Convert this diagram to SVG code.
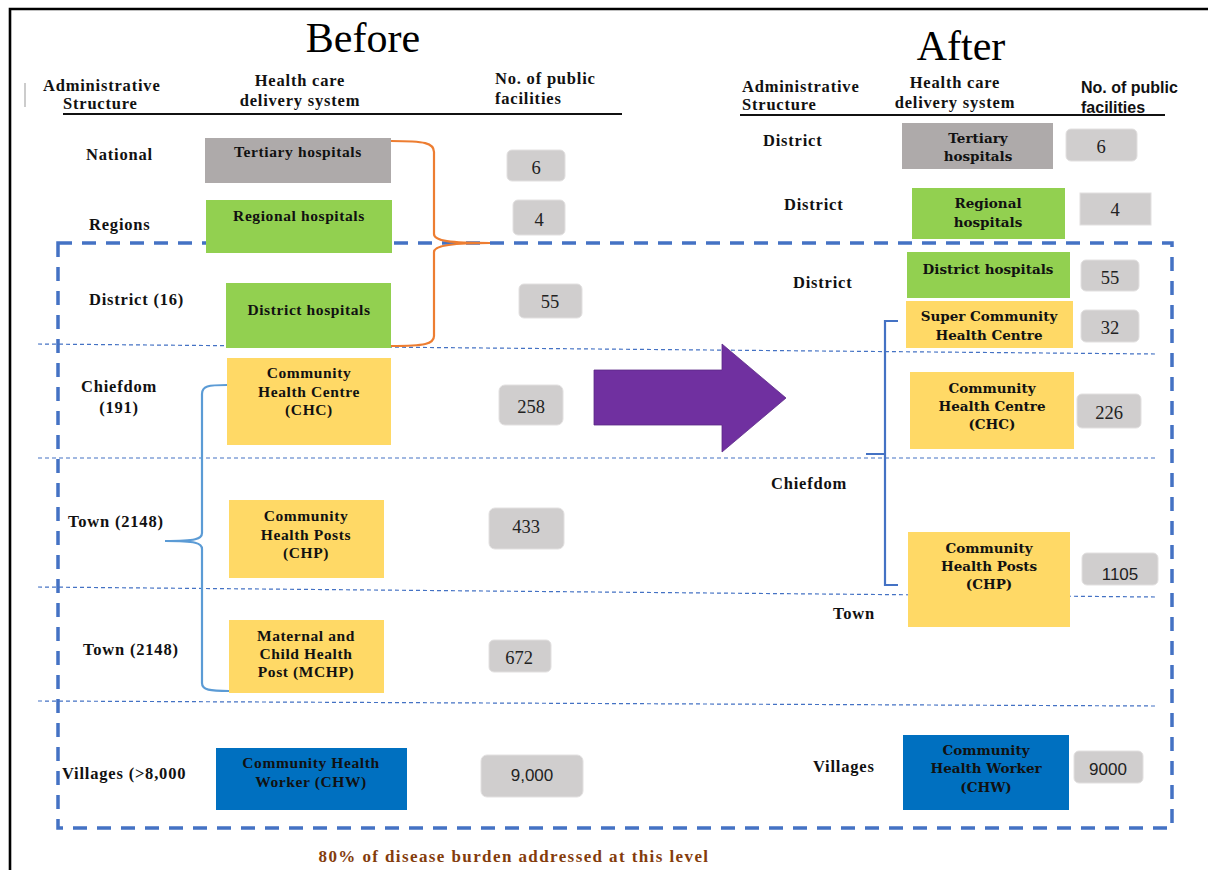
<svg xmlns="http://www.w3.org/2000/svg" width="1208" height="870" viewBox="0 0 1208 870">
  <defs>
    <style>
      .title { font-family: "Liberation Serif", serif; font-size: 42px; fill: #000; }
      .hdr { font-family: "Liberation Serif", serif; font-weight: bold; font-size: 16.5px; letter-spacing: 0.8px; fill: #111; }
      .hdrs { font-family: "Liberation Sans", Arial, sans-serif; font-weight: bold; font-size: 16px; fill: #111; }
      .lbl { font-family: "Liberation Serif", serif; font-weight: bold; font-size: 16.5px; letter-spacing: 0.8px; fill: #111; }
      .bx { font-family: "Liberation Serif", serif; font-weight: bold; font-size: 15.5px; letter-spacing: 0.6px; fill: #111; text-anchor: middle; }
      .bxr { font-family: "DejaVu Serif", serif; font-weight: bold; font-size: 13.5px; fill: #111; text-anchor: middle; }
      .num { font-family: "Liberation Serif", serif; font-size: 18.5px; fill: #222; text-anchor: middle; }
      .nums { font-family: "Liberation Sans", Arial, sans-serif; font-size: 17px; fill: #222; text-anchor: middle; }
      .gray { fill: #AEAAAA; }
      .green { fill: #92D050; }
      .yellow { fill: #FFD966; }
      .blue { fill: #0070C0; }
      .count { fill: #D0CECE; stroke: #E2E0E0; stroke-width: 1; }
      .sep { fill: none; stroke: #4472C4; stroke-width: 1.2; stroke-dasharray: 4 3; }
      .zone { fill: none; stroke: #4472C4; stroke-width: 3.5; stroke-dasharray: 14 10; }
      .rule { stroke: #111; stroke-width: 2.2; }
    </style>
  </defs>

  <rect width="1208" height="870" fill="#fff"/>

  <!-- outer frame (top and left edges) -->
  <path d="M10,870 L10,9 L1208,9" fill="none" stroke="#000" stroke-width="2.6"/>
  <line x1="25" y1="83" x2="25" y2="107" stroke="#999" stroke-width="1"/>

  <!-- titles -->
  <text class="title" x="363" y="52" text-anchor="middle">Before</text>
  <text class="title" x="961" y="60" text-anchor="middle">After</text>

  <!-- column headers: before -->
  <g id="headers-before">
    <text class="hdr" x="43" y="91">Administrative</text>
    <text class="hdr" x="63" y="109">Structure</text>
    <text class="hdr" x="300" y="86" text-anchor="middle">Health care</text>
    <text class="hdr" x="300" y="106" text-anchor="middle">delivery system</text>
    <text class="hdr" x="495" y="84">No. of public</text>
    <text class="hdr" x="495" y="104">facilities</text>
    <line class="rule" x1="63" y1="114" x2="622" y2="114"/>
  </g>

  <!-- column headers: after -->
  <g id="headers-after">
    <text class="hdr" x="742" y="92">Administrative</text>
    <text class="hdr" x="742" y="110">Structure</text>
    <text class="hdr" x="955" y="88" text-anchor="middle">Health care</text>
    <text class="hdr" x="955" y="108" text-anchor="middle">delivery system</text>
    <text class="hdrs" x="1081" y="93">No. of public</text>
    <text class="hdrs" x="1081" y="113">facilities</text>
    <line class="rule" x1="740" y1="115" x2="1165" y2="115"/>
  </g>

  <!-- level separators and primary-care zone -->
  <g id="connectors">
    <path class="sep" d="M38,344 L1155,354"/>
    <path class="sep" d="M38,458 L1155,458"/>
    <path class="sep" d="M38,587 L1155,597"/>
    <path class="sep" d="M38,701 L1155,706"/>
    <rect class="zone" x="58" y="243" width="1114" height="585"/>

    <!-- orange brace grouping hospitals -->
    <path d="M391,141 C425,141 434,143 434,152 L434,234 C434,241 450,243 490,243 C450,243 434,246 434,252 L434,336 C434,344 425,346 391,346" fill="none" stroke="#ED7D31" stroke-width="2.2"/>

    <!-- light-blue brace grouping primary care (before) -->
    <path d="M227,385 C208,385 202,386 202,394 L202,533 C202,539 196,541 165,541 C196,541 202,543 202,549 L202,683 C202,690 210,691 229,691" fill="none" stroke="#5B9BD5" stroke-width="2.2"/>

    <!-- blue bracket grouping chiefdom level (after) -->
    <path d="M898,321 L885,321 L885,585 L898,585 M885,454 L866,454" fill="none" stroke="#4472C4" stroke-width="2.2"/>
  </g>

  <!-- transition arrow -->
  <g id="arrow">
    <path d="M594,370 L722,370 L722,344 L786,398 L722,452 L722,425 L594,425 Z" fill="#7030A0" stroke="#5B2A86" stroke-width="0.8"/>
  </g>

  <!-- ===== Before ===== -->
  <g id="b-national">
    <text class="lbl" x="86" y="160">National</text>
    <rect class="gray" x="205" y="138" width="186" height="45"/>
    <text class="bx" x="298" y="157">Tertiary hospitals</text>
    <rect class="count" x="507" y="150" width="58" height="31" rx="5"/>
    <text class="num" x="536" y="174">6</text>
  </g>

  <g id="b-regions">
    <text class="lbl" x="89" y="230">Regions</text>
    <rect class="green" x="206" y="200" width="186" height="53"/>
    <text class="bx" x="299" y="221">Regional hospitals</text>
    <rect class="count" x="513" y="200" width="52" height="35" rx="5"/>
    <text class="num" x="539" y="226">4</text>
  </g>

  <g id="b-district">
    <text class="lbl" x="89" y="305">District (16)</text>
    <rect class="green" x="226" y="283" width="165" height="65"/>
    <text class="bx" x="309" y="315">District hospitals</text>
    <rect class="count" x="519" y="284" width="63" height="34" rx="5"/>
    <text class="num" x="550" y="308">55</text>
  </g>

  <g id="b-chiefdom">
    <text class="lbl" x="119" y="392" text-anchor="middle">Chiefdom</text>
    <text class="lbl" x="119" y="413" text-anchor="middle">(191)</text>
    <rect class="yellow" x="227" y="358" width="164" height="87"/>
    <text class="bx" x="309" y="378">Community</text>
    <text class="bx" x="309" y="397">Health Centre</text>
    <text class="bx" x="309" y="415">(CHC)</text>
    <rect class="count" x="499" y="385" width="64" height="40" rx="6"/>
    <text class="num" x="531" y="413">258</text>
  </g>

  <g id="b-town-chp">
    <text class="lbl" x="68" y="527">Town (2148)</text>
    <rect class="yellow" x="229" y="500" width="155" height="78"/>
    <text class="bx" x="306" y="521">Community</text>
    <text class="bx" x="306" y="540">Health Posts</text>
    <text class="bx" x="306" y="558">(CHP)</text>
    <rect class="count" x="489" y="508" width="75" height="41" rx="6"/>
    <text class="num" x="526" y="533">433</text>
  </g>

  <g id="b-town-mchp">
    <text class="lbl" x="83" y="655">Town (2148)</text>
    <rect class="yellow" x="229" y="620" width="155" height="73"/>
    <text class="bx" x="306" y="641">Maternal and</text>
    <text class="bx" x="306" y="659">Child Health</text>
    <text class="bx" x="306" y="677">Post (MCHP)</text>
    <rect class="count" x="489" y="640" width="62" height="32" rx="5"/>
    <text class="num" x="519" y="664">672</text>
  </g>

  <g id="b-villages">
    <text class="lbl" x="62" y="779">Villages (&gt;8,000</text>
    <rect class="blue" x="216" y="748" width="191" height="62"/>
    <text class="bx" x="311" y="768">Community Health</text>
    <text class="bx" x="311" y="787">Worker (CHW)</text>
    <rect class="count" x="481" y="755" width="102" height="42" rx="6"/>
    <text class="nums" x="532" y="781">9,000</text>
  </g>

  <!-- ===== After ===== -->
  <g id="a-tertiary">
    <text class="lbl" x="763" y="146">District</text>
    <rect class="gray" x="902" y="123" width="151" height="46"/>
    <text class="bxr" x="978" y="143">Tertiary</text>
    <text class="bxr" x="978" y="161">hospitals</text>
    <rect class="count" x="1066" y="129" width="71" height="32" rx="5"/>
    <text class="num" x="1101" y="153">6</text>
  </g>

  <g id="a-regional">
    <text class="lbl" x="784" y="210">District</text>
    <rect class="green" x="912" y="188" width="153" height="51"/>
    <text class="bxr" x="988" y="208">Regional</text>
    <text class="bxr" x="988" y="227">hospitals</text>
    <rect class="count" x="1080" y="193" width="71" height="32"/>
    <text class="num" x="1115" y="216">4</text>
  </g>

  <g id="a-district">
    <text class="lbl" x="793" y="288">District</text>
    <rect class="green" x="907" y="252" width="163" height="46"/>
    <text class="bxr" x="988" y="274">District hospitals</text>
    <rect class="count" x="1081" y="260" width="58" height="31" rx="5"/>
    <text class="num" x="1110" y="284">55</text>
  </g>

  <g id="a-super-chc">
    <rect class="yellow" x="906" y="301" width="167" height="47"/>
    <text class="bxr" x="989" y="321">Super Community</text>
    <text class="bxr" x="989" y="340">Health Centre</text>
    <rect class="count" x="1081" y="310" width="58" height="32" rx="5"/>
    <text class="num" x="1110" y="334">32</text>
  </g>

  <g id="a-chc">
    <rect class="yellow" x="910" y="372" width="164" height="77"/>
    <text class="bxr" x="992" y="393">Community</text>
    <text class="bxr" x="992" y="411">Health Centre</text>
    <text class="bxr" x="992" y="429">(CHC)</text>
    <rect class="count" x="1077" y="394" width="64" height="34" rx="5"/>
    <text class="num" x="1109" y="419">226</text>
  </g>

  <g id="a-chiefdom">
    <text class="lbl" x="771" y="489">Chiefdom</text>
  </g>

  <g id="a-chp">
    <rect class="yellow" x="908" y="532" width="162" height="95"/>
    <text class="bxr" x="989" y="553">Community</text>
    <text class="bxr" x="989" y="571">Health Posts</text>
    <text class="bxr" x="989" y="589">(CHP)</text>
    <rect class="count" x="1082" y="553" width="76" height="32" rx="5"/>
    <text class="nums" x="1120" y="580">1105</text>
  </g>

  <g id="a-town">
    <text class="lbl" x="833" y="619">Town</text>
  </g>

  <g id="a-villages">
    <text class="lbl" x="813" y="772">Villages</text>
    <rect class="blue" x="903" y="735" width="166" height="75"/>
    <text class="bxr" x="986" y="755">Community</text>
    <text class="bxr" x="986" y="773">Health Worker</text>
    <text class="bxr" x="986" y="792">(CHW)</text>
    <rect class="count" x="1074" y="751" width="69" height="32" rx="5"/>
    <text class="nums" x="1108" y="775">9000</text>
  </g>

  <!-- footnote -->
  <text x="514" y="862" text-anchor="middle" font-family="Liberation Serif, serif" font-weight="bold" font-size="17" letter-spacing="1.4" fill="#843C0C">80% of disease burden addressed at this level</text>
</svg>
